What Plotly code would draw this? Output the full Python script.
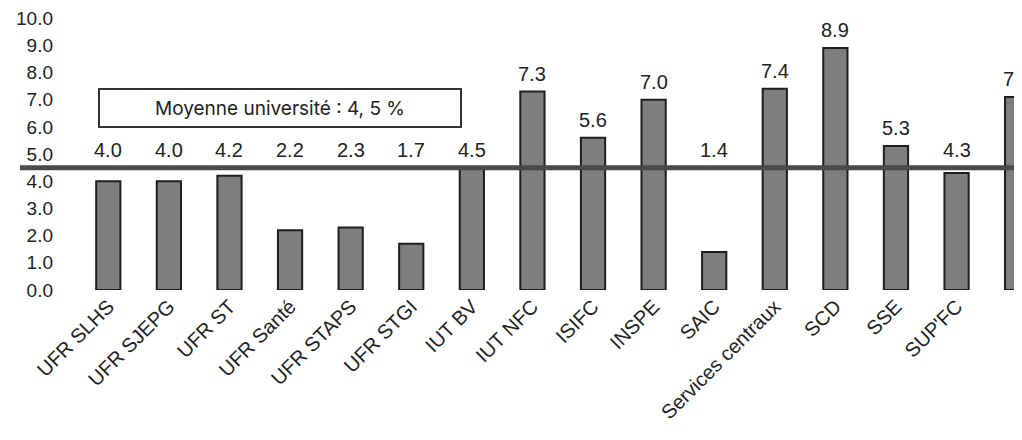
import plotly.graph_objects as go

categories = ["UFR SLHS", "UFR SJEPG", "UFR ST", "UFR Santé", "UFR STAPS", "UFR STGI",
              "IUT BV", "IUT NFC", "ISIFC", "INSPE", "SAIC", "Services centraux",
              "SCD", "SSE", "SUP'FC", "CLA"]
values = [4.0, 4.0, 4.2, 2.2, 2.3, 1.7, 4.5, 7.3, 5.6, 7.0, 1.4, 7.4, 8.9, 5.3, 4.3, 7.1]
average = 4.5
avg_label = "Moyenne université : 4, 5 %"
y_ticks = [0, 1, 2, 3, 4, 5, 6, 7, 8, 9, 10]

xs = list(range(len(categories)))

fig = go.Figure()
fig.add_trace(go.Bar(
    x=xs, y=values, width=0.4,
    marker=dict(color="#7e7e7e", line=dict(color="#1e1e1e", width=2)),
    hoverinfo="skip", showlegend=False, cliponaxis=False,
))

# average line
fig.add_shape(type="line", xref="paper", yref="y", x0=-0.0614, x1=1.02, y0=average, y1=average,
              line=dict(color="#4a4a4a", width=5), layer="above")

# value labels (placed above the average line when the bar is below it)
for x, v in zip(xs, values):
    fig.add_annotation(x=x, y=max(v, average), text=f"{v:.1f}", showarrow=False,
                       yanchor="bottom", yshift=5,
                       font=dict(family="Liberation Sans, Arial, sans-serif", size=20, color="#222222"))

# average text box
fig.add_annotation(x=2.84, y=6.69, xref="x", yref="y", text=avg_label, showarrow=False,
                   width=358, height=34, bordercolor="#333333", borderwidth=2, bgcolor="white",
                   font=dict(family="Inter, Noto Sans, sans-serif", size=19, color="#222222"))

fig.update_layout(
    width=1014, height=432,
    margin=dict(l=70, r=0, t=6, b=150),
    plot_bgcolor="white", paper_bgcolor="white",
    bargap=0.6,
)
fig.update_xaxes(
    range=[-0.5, 15.08], tickmode="array", tickvals=xs, ticktext=categories,
    tickangle=-45, showgrid=False, zeroline=False, showline=False, ticks="",
    tickfont=dict(family="Liberation Sans, Arial, sans-serif", size=20, color="#222222"),
)
fig.update_yaxes(
    range=[0, 10.15], tickmode="array", tickvals=y_ticks,
    ticktext=[f"{t:.1f}" for t in y_ticks], showgrid=False, zeroline=False,
    showline=False, ticks="", ticklabelstandoff=24, ticklabeloverflow="allow",
    tickfont=dict(family="Liberation Sans, Arial, sans-serif", size=19, color="#222222"),
)

fig.write_html("out.html")
